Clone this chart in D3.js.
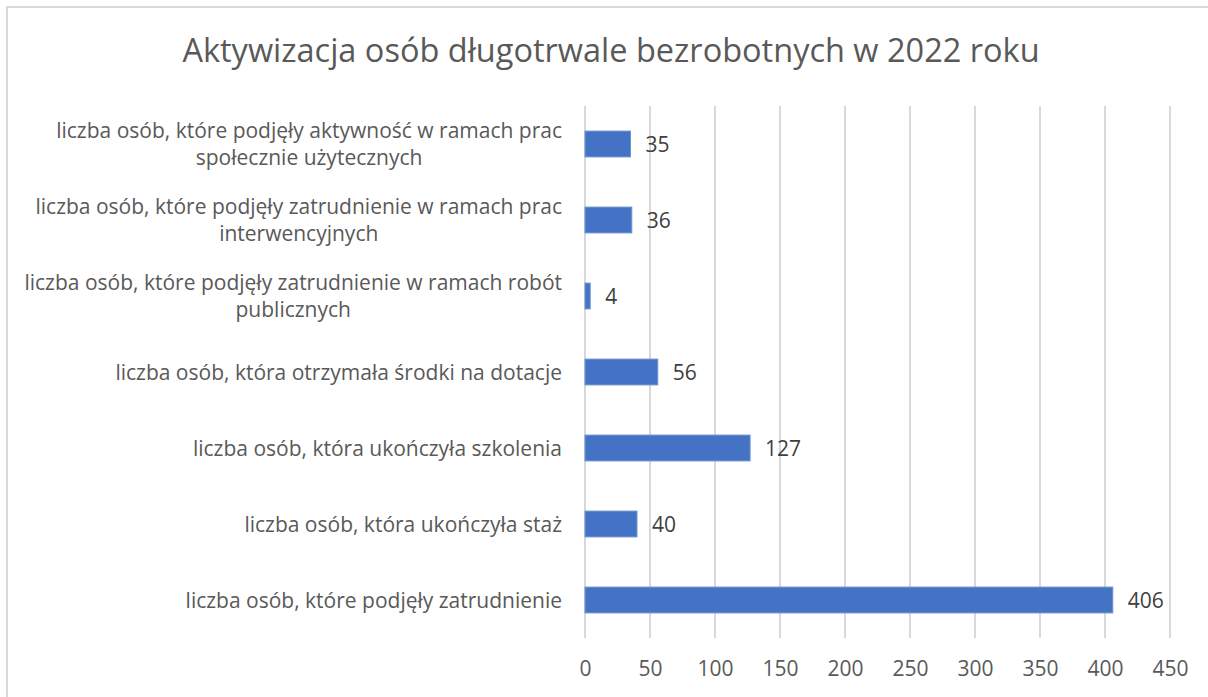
<!DOCTYPE html>
<html>
<head>
  <meta charset="utf-8">
  <title>Aktywizacja osób długotrwale bezrobotnych w 2022 roku</title>
  <script src="https://d3js.org/d3.v7.min.js"></script>
  <style>
    html, body {
      margin: 0;
      padding: 0;
      background: #fff;
      overflow: hidden;
    }
    svg text {
      font-family: "Open Sans", "Noto Sans", sans-serif;
      fill: #595959;
    }
    .grid line {
      stroke: #d9d9d9;
      stroke-width: 2px;
    }
    .bar {
      fill: #4472c4;
      stroke: #6f93d3;
      stroke-width: 1px;
    }
  </style>
</head>
<body>
  <svg width="1208" height="697"></svg>
  <script>
    // Dane wykresu
    const categories = [
      "liczba osób, które podjęły aktywność w ramach prac społecznie użytecznych",
      "liczba osób, które podjęły zatrudnienie w ramach prac interwencyjnych",
      "liczba osób, które podjęły zatrudnienie w ramach robót publicznych",
      "liczba osób, która otrzymała środki na dotacje",
      "liczba osób, która ukończyła szkolenia",
      "liczba osób, która ukończyła staż",
      "liczba osób, które podjęły zatrudnienie"
    ];
    const values = [35, 36, 4, 56, 127, 40, 406];
    const ticks = [0, 50, 100, 150, 200, 250, 300, 350, 400, 450];
    const title = "Aktywizacja osób długotrwale bezrobotnych w 2022 roku";

    const svg = d3.select("svg");

    // ramka wykresu
    svg.append("rect")
      .attr("x", 7)
      .attr("y", 7)
      .attr("width", 1240)
      .attr("height", 720)
      .attr("fill", "none")
      .attr("stroke", "#d9d9d9")
      .attr("stroke-width", 2);

    svg.append("text")
      .attr("x", 611)
      .attr("y", 62)
      .attr("text-anchor", "middle")
      .style("font-size", "32.5px")
      .text(title);

    const x = d3.scaleLinear().domain([0, 450]).range([585, 1170]);
    const y = d3.scaleBand().domain(categories).range([106, 638]).paddingInner(0.66).paddingOuter(0.33);

    // linie siatki
    svg.append("g").attr("class", "grid")
      .selectAll("line")
      .data(ticks)
      .enter()
      .append("line")
      .attr("x1", d => x(d))
      .attr("x2", d => x(d))
      .attr("y1", 106)
      .attr("y2", 638);

    // etykiety osi X
    const xAxis = d3.axisBottom(x).tickValues(ticks).tickSize(0).tickPadding(0);
    const gx = svg.append("g")
      .attr("transform", "translate(0,661)")
      .call(xAxis);
    gx.select(".domain").remove();
    gx.selectAll("text")
      .attr("dy", "0.71em")
      .style("font-size", "21px")
      .style("font-family", "\"Open Sans\", sans-serif")
      .attr("fill", "#595959");

    // słupki
    svg.append("g")
      .selectAll("rect")
      .data(values)
      .enter()
      .append("rect")
      .attr("class", "bar")
      .attr("x", x(0))
      .attr("y", (d, i) => y(categories[i]))
      .attr("width", d => x(d) - x(0))
      .attr("height", y.bandwidth());

    // wartości przy słupkach
    svg.append("g")
      .selectAll("text")
      .data(values)
      .enter()
      .append("text")
      .attr("x", d => x(d) + 15)
      .attr("y", (d, i) => y(categories[i]) + y.bandwidth() / 2)
      .attr("dy", "0.36em")
      .style("font-size", "21px")
      .style("fill", "#404040")
      .text(d => d);

    // etykiety kategorii z zawijaniem
    const maxWidth = 550;
    const lineHeight = 27;
    const labels = svg.append("g")
      .selectAll("text")
      .data(categories)
      .enter()
      .append("text")
      .style("font-size", "21px")
      .attr("text-anchor", "middle");

    labels.each(function(d) {
      const t = d3.select(this);
      const words = d.split(" ");
      const lines = [];
      let line = [];
      const probe = t.append("tspan");
      words.forEach(w => {
        line.push(w);
        probe.text(line.join(" "));
        if (probe.node().getComputedTextLength() > maxWidth && line.length > 1) {
          line.pop();
          lines.push(line.join(" "));
          line = [w];
        }
      });
      lines.push(line.join(" "));
      probe.remove();

      // szerokość najdłuższej linii, żeby wyrównać blok do prawej
      let widest = 0;
      const spans = lines.map(l => {
        const s = t.append("tspan").text(l);
        widest = Math.max(widest, s.node().getComputedTextLength());
        return s;
      });
      const cx = 562 - widest / 2;
      const cy = y(d) + y.bandwidth() / 2;
      const top = cy - (lines.length - 1) * lineHeight / 2;
      spans.forEach((s, i) => {
        s.attr("x", cx).attr("y", top + i * lineHeight).attr("dy", "0.36em");
      });
    });
  </script>
</body>
</html>
